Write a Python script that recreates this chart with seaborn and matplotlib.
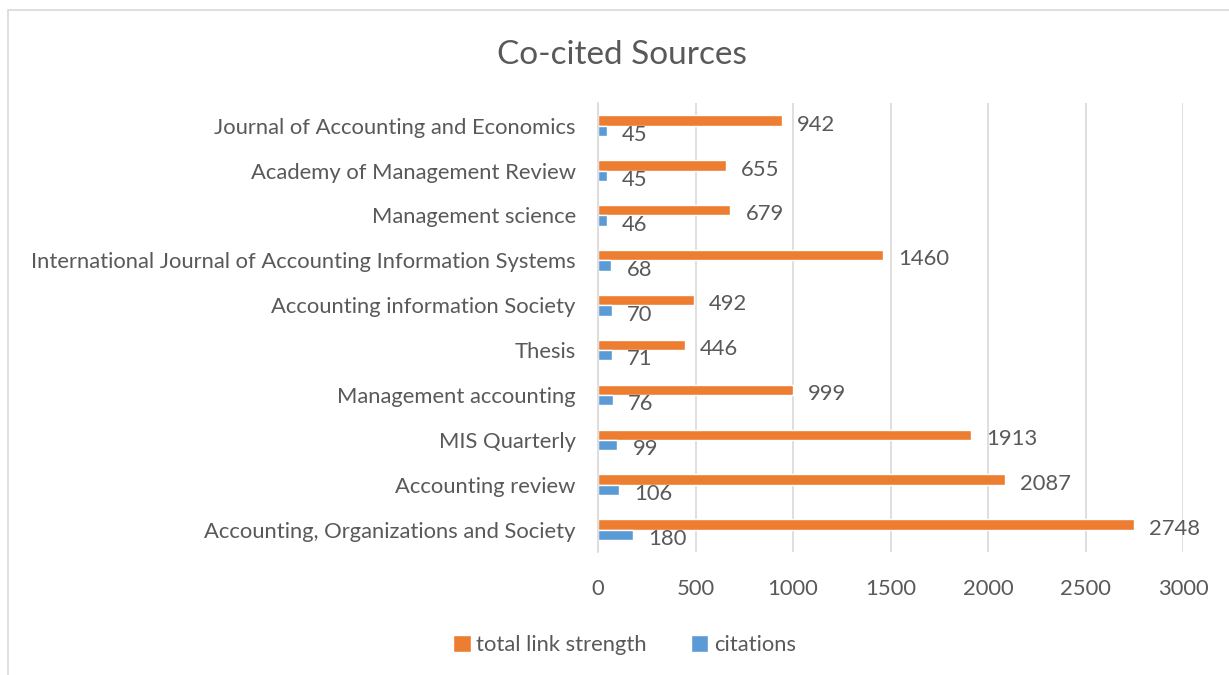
import matplotlib
matplotlib.use("Agg")
import matplotlib.pyplot as plt
import seaborn as sns
import pandas as pd
from matplotlib.patches import Rectangle

# data, top to bottom as shown in the chart
sources = [
    "Journal of Accounting and Economics",
    "Academy of Management Review",
    "Management science",
    "International Journal of Accounting Information Systems",
    "Accounting information Society",
    "Thesis",
    "Management accounting",
    "MIS Quarterly",
    "Accounting review",
    "Accounting, Organizations and Society",
]
total_link_strength = [942, 655, 679, 1460, 492, 446, 999, 1913, 2087, 2748]
citations = [45, 45, 46, 68, 70, 71, 76, 99, 106, 180]
series_names = ["total link strength", "citations"]
series_colors = ["#ED7D31", "#5B9BD5"]
x_ticks = [0, 500, 1000, 1500, 2000, 2500, 3000]

df = pd.DataFrame({
    "source": sources * 2,
    "value": total_link_strength + citations,
    "series": [series_names[0]] * len(sources) + [series_names[1]] * len(sources),
})

sns.set_theme(style="white")
plt.rcParams["font.family"] = ["Lato", "DejaVu Sans"]
text_color = "#595959"
fs = 15.8

fig = plt.figure(figsize=(12.29, 6.75), dpi=100)
ax = fig.add_axes([0.4866, 0.182, 0.476, 0.665])

sns.barplot(data=df, y="source", x="value", hue="series", order=sources,
            hue_order=series_names, palette=series_colors, orient="h",
            width=0.46, saturation=1, ax=ax, legend=True)

for container in ax.containers:
    for bar, val in zip(container, container.datavalues):
        ax.annotate(f"{val:.0f}", (bar.get_width(), bar.get_y() + bar.get_height() / 2),
                    xytext=(11, -3), textcoords="offset points", ha="left", va="center",
                    fontsize=fs, color=text_color)

ax.set_xlim(0, 3000)
ax.set_xticks(x_ticks)
ax.set_xticklabels([str(t) for t in x_ticks])
ax.set_xlabel("")
ax.set_ylabel("")
ax.grid(axis="x", color="#D9D9D9", linewidth=1.2)
ax.set_axisbelow(True)
for side in ["top", "right", "bottom"]:
    ax.spines[side].set_visible(False)
ax.spines["left"].set_color("#D9D9D9")
ax.spines["left"].set_linewidth(1.2)
ax.tick_params(axis="both", length=0, labelsize=fs, labelcolor=text_color)
ax.tick_params(axis="y", pad=16)
ax.tick_params(axis="x", pad=19)

leg = ax.legend(loc="upper center", bbox_to_anchor=(0.045, -0.14), ncol=2,
                frameon=False, fontsize=fs, handlelength=0.8, handleheight=0.8,
                handletextpad=0.25, columnspacing=2.0)
for t in leg.get_texts():
    t.set_color(text_color)

fig.suptitle("Co-cited Sources", x=0.506, y=0.94, fontsize=24, color=text_color)

# chart area border
fig.patches.append(Rectangle((8 / 1229, -0.1), 1.2, (675 - 10) / 675 + 0.1,
                             transform=fig.transFigure, fill=False,
                             edgecolor="#D9D9D9", linewidth=1.2))

fig.savefig("out.png", dpi=100)
